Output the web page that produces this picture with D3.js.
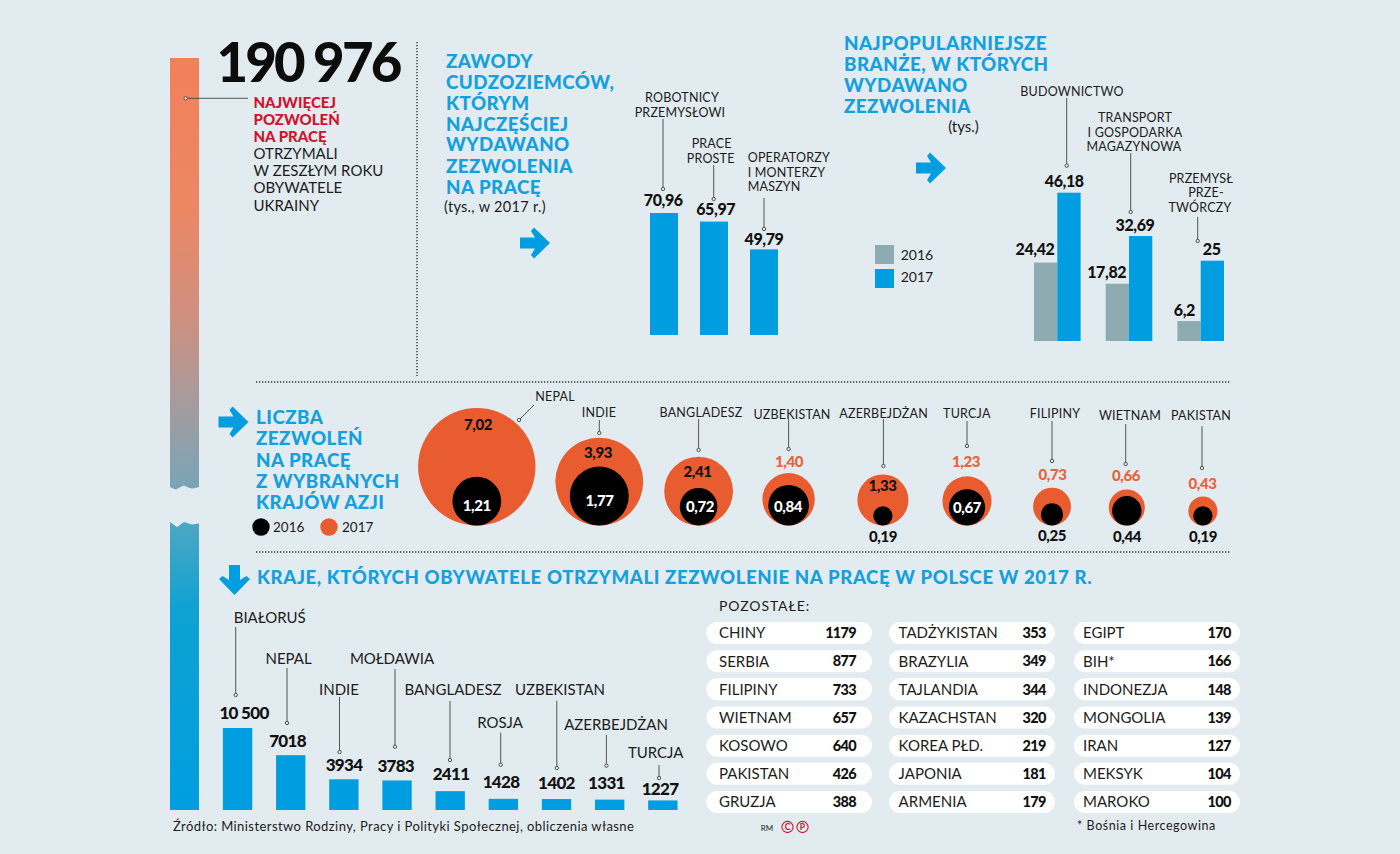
<!DOCTYPE html>
<html lang="pl"><head><meta charset="utf-8">
<script src="https://cdn.jsdelivr.net/npm/d3@7"></script>
<style>html,body{margin:0;padding:0;background:#e2ebef}svg{display:block}text{font-family:Lato,"Noto Sans",sans-serif}</style>
</head><body><div id="c"></div>
<script>
// ---------- DATA ----------
const totalUkraine = "190 976";
const jobNames = ["Robotnicy przemysłowi","Prace proste","Operatorzy i monterzy maszyn"];
const jobValues = [70.96,65.97,49.79];
const sectorNames = ["Budownictwo","Transport i gospodarka magazynowa","Przemysł przetwórczy"];
const sector2016 = [24.42,17.82,6.2];
const sector2017 = [46.18,32.69,25];
const asiaCountries = ["NEPAL","INDIE","BANGLADESZ","UZBEKISTAN","AZERBEJDŻAN","TURCJA","FILIPINY","WIETNAM","PAKISTAN"];
const asia2016 = [1.21,1.77,0.72,0.84,0.19,0.67,0.25,0.44,0.19];
const asia2017 = [7.02,3.93,2.41,1.40,1.33,1.23,0.73,0.66,0.43];
const topCountries = ["BIAŁORUŚ","NEPAL","INDIE","MOŁDAWIA","BANGLADESZ","ROSJA","UZBEKISTAN","AZERBEJDŻAN","TURCJA"];
const topValues = [10500,7018,3934,3783,2411,1428,1402,1331,1227];
const topValueLabels = ["10 500","7018","3934","3783","2411","1428","1402","1331","1227"];
const otherCol1 = ["CHINY","SERBIA","FILIPINY","WIETNAM","KOSOWO","PAKISTAN","GRUZJA"];
const otherVal1 = [1179,877,733,657,640,426,388];
const otherCol2 = ["TADŻYKISTAN","BRAZYLIA","TAJLANDIA","KAZACHSTAN","KOREA PŁD.","JAPONIA","ARMENIA"];
const otherVal2 = [353,349,344,320,219,181,179];
const otherCol3 = ["EGIPT","BIH*","INDONEZJA","MONGOLIA","IRAN","MEKSYK","MAROKO"];
const otherVal3 = [170,166,148,139,127,104,100];

// ---------- LAYOUT (annotation placement, kept apart from the data) ----------
const jobLabels = [
 {lines:[["ROBOTNICY",682,97,"middle"],["PRZEMYSŁOWI",680,112,"middle"]],line:[663,119,189],val:[663.3,-13]},
 {lines:[["PRACE",711.7,143,"middle"],["PROSTE",710.7,158,"middle"]],line:[713.7,165,199],val:[715.7,-12]},
 {lines:[["OPERATORZY",747.7,157,"start"],["I MONTERZY",747.7,172,"start"],["MASZYN",747.7,186.7,"start"]],line:[764,198,229],val:[764,-10.5]}];
const sectorLabels = [
 {lines:[["BUDOWNICTWO",1072,91]],line:[1066.7,98,165.7]},
 {lines:[["TRANSPORT",1135,117],["I GOSPODARKA",1135,132],["MAGAZYNOWA",1134,146]],line:[1130.7,153,212]},
 {lines:[["PRZEMYSŁ",1201,178],["PRZE-",1206,192],["TWÓRCZY",1200,207]],line:[1197.7,217,241]}];
const bubbleCentres = [476.8,599.3,698.6,788.6,882.9,967,1052,1126.8,1202.9];
const bubbleNames = [[555,396],[599,412.7],[701,412],[792,414],[883.6,413],[966.8,413.5],[1055,413.5],[1130,415],[1201,415]];
const bubbleLeaders = [[534,405,519,420],[599.3,420,599.3,433],[698.6,419,698.6,450],[788.6,419,788.6,449],[883.4,419,883.4,466],[967,421,967,446],[1052,421,1052,461],[1125.7,424,1125.7,464],[1202,426,1202,468]];
const v17Pos = [[478,425,"#111"],[598,453,"#111"],[697.5,472,"#111"],[789,461.5,"#e8623a"],[882.5,486,"#111"],[966,461.5,"#e8623a"],[1052.5,475,"#e8623a"],[1126,476,"#e8623a"],[1202.5,484,"#e8623a"]];
const v16Pos = [[476.8,505.7,"#fff"],[599.6,500.6,"#fff"],[700,507,"#fff"],[788,507,"#fff"],[883,537,"#111"],[967,508,"#fff"],[1052,536,"#111"],[1127,537,"#111"],[1203,537,"#111"]];
const topLayout = [
 {name:[269.7,618],line:[235.7,627,695],val:[244,-15]},
 {name:[288.6,659],line:[287,668,723],val:[287.5,-14.3]},
 {name:[339,689.7],line:[339.5,697,752],val:[344,-14]},
 {name:[392,659],line:[395,669,746.7],val:[395.7,-15]},
 {name:[453,690],line:[450,701,760],val:[451,-17]},
 {name:[500,723],line:[500.7,732.7,764.7],val:[501,-17]},
 {name:[560,690],line:[556.8,700.7,768],val:[556.4,-16]},
 {name:[616,724.7],line:[606.4,735,765.7],val:[606.4,-17]},
 {name:[655.7,753],line:[659,765,778],val:[660,-11.4]}];

const W=1400,H=854;
const COL={bg:"#e2ebef",blue:"#009ee0",head:"#149fdd",org:"#e95c30",grey:"#8eabb1",red:"#d2122e",ink:"#1c1c1c",line:"#444"};
const pl=(v,d)=>v.toFixed(d).replace(".",",");
const svg=d3.select("#c").append("svg").attr("width",W).attr("height",H).attr("viewBox",`0 0 ${W} ${H}`);
svg.append("rect").attr("width",W).attr("height",H).attr("fill",COL.bg);

function txt(x,yc,s,o={}){
  const size=o.size||13;
  return svg.append("text").attr("x",x).attr("y",yc+size*0.36).text(s)
   .attr("font-size",size).attr("font-weight",o.weight||400).attr("fill",o.fill||COL.ink)
   .attr("text-anchor",o.anchor||"start").attr("letter-spacing",o.ls||0);
}
const lab=(x,y,s,o={})=>txt(x,y,s,Object.assign({size:13,anchor:"middle",ls:0.2},o));
const num=(x,y,s,o={})=>txt(x,y,s,Object.assign({size:16,weight:900,anchor:"middle",ls:-0.4,fill:"#111"},o));
const head=(x,y,s,o={})=>txt(x,y,s,Object.assign({size:18.8,weight:900,fill:COL.head,ls:0.45},o));
function leader(x1,y1,x2,y2){
  svg.append("line").attr("x1",x1).attr("y1",y1).attr("x2",x2).attr("y2",y2).attr("stroke",COL.line).attr("stroke-width",0.9);
  svg.append("circle").attr("cx",x2).attr("cy",y2).attr("r",1.7).attr("fill",COL.bg).attr("stroke",COL.line).attr("stroke-width",0.9);
}
function arrow(cx,cy,rot){
  const p=[[-15,-5.5],[0,-5.5],[-4,-12],[-1,-15.5],[15,0],[-1,15.5],[-4,12],[0,5.5],[-15,5.5]];
  svg.append("path").attr("d",d3.line()(p)+"Z").attr("fill",COL.blue).attr("transform",`translate(${cx},${cy}) rotate(${rot||0})`);
}
function dotted(x1,y1,x2,y2){
  svg.append("line").attr("x1",x1).attr("y1",y1).attr("x2",x2).attr("y2",y2).attr("stroke","#333").attr("stroke-width",1.4).attr("stroke-dasharray","1.3 1.7");
}

// ---------- left column ----------
const defs=svg.append("defs");
const g1=defs.append("linearGradient").attr("id","gTop").attr("x1",0).attr("x2",0).attr("y1",0).attr("y2",1);
[[0,"#f2805a"],[.35,"#ec8764"],[.6,"#cf9080"],[.8,"#a59b9e"],[1,"#78a5b7"]].forEach(d=>g1.append("stop").attr("offset",d[0]).attr("stop-color",d[1]));
const g2=defs.append("linearGradient").attr("id","gBot").attr("x1",0).attr("x2",0).attr("y1",0).attr("y2",1);
[[0,"#4fa6c3"],[.3,"#0ea2d2"],[1,"#009ee0"]].forEach(d=>g2.append("stop").attr("offset",d[0]).attr("stop-color",d[1]));
svg.append("path").attr("fill","url(#gTop)").attr("d","M170,58H199V487L193,488.5Q188,488 184,485.5Q180,487 176,489.5Q172,488 170,487Z");
svg.append("path").attr("fill","url(#gBot)").attr("d","M170,522L177,527L184,522L192,524.5L199,523.5V810H170Z");
txt(216.5,62,totalUkraine,{size:54.5,weight:900,fill:"#0c0c0c",ls:-2.8});
leader(248,98.3,185.7,98.3);
[["NAJWIĘCEJ",103,1],["POZWOLEŃ",120,1],["NA PRACĘ",137,1],["OTRZYMALI",154,0],["W ZESZŁYM ROKU",171,0],["OBYWATELE",188,0],["UKRAINY",206,0]].forEach(d=>
  txt(253.5,d[1],d[0],{size:15,weight:d[2]?900:400,fill:d[2]?COL.red:COL.ink}));
dotted(417,42,417,376);dotted(256,382,1231,382);dotted(256,552,1231,552);

// ---------- chart 1 ----------
["ZAWODY","CUDZOZIEMCÓW,","KTÓRYM","NAJCZĘŚCIEJ","WYDAWANO","ZEZWOLENIA","NA PRACĘ"].forEach((s,i)=>head(446,[61,82,103,124,144.5,166,187.5][i],s));
txt(444,207,"(tys., w 2017 r.)",{size:14.5,ls:.3});
arrow(535,243);
const x1=d3.scaleBand().domain(jobNames).range([650,778]).paddingInner(.44);
const y1=d3.scaleLinear().domain([0,70.96]).range([335,213]);
svg.append("g").selectAll("rect").data(jobValues).join("rect")
 .attr("x",(d,i)=>x1(jobNames[i])).attr("width",x1.bandwidth()).attr("y",d=>y1(d)).attr("height",d=>y1(0)-y1(d)).attr("fill",COL.blue);
jobLabels.forEach((l,i)=>{
  l.lines.forEach(t=>lab(t[1],t[2],t[0],{size:12.5,anchor:t[3]}));
  leader(l.line[0],l.line[1],l.line[0],l.line[2]);
  num(l.val[0],y1(jobValues[i])+l.val[1],pl(jobValues[i],2));
});

// ---------- chart 2 ----------
["NAJPOPULARNIEJSZE","BRANŻE, W KTÓRYCH","WYDAWANO","ZEZWOLENIA"].forEach((s,i)=>head(844,[43,64,85,106][i],s));
txt(963.5,127,"(tys.)",{size:15,anchor:"middle"});
arrow(931,168);
const x2=d3.scaleBand().domain(sectorNames).range([1034,1224]).paddingInner(.35);
const x2s=d3.scaleBand().domain(["2016","2017"]).range([0,x2.bandwidth()]);
const y2=d3.scaleLinear().domain([0,46.18]).range([341,192.7]);
[[sector2016,"2016",COL.grey],[sector2017,"2017",COL.blue]].forEach(s=>{
  svg.append("g").selectAll("rect").data(s[0]).join("rect")
   .attr("x",(d,i)=>x2(sectorNames[i])+x2s(s[1])).attr("width",x2s.bandwidth()).attr("y",d=>y2(d)).attr("height",d=>y2(0)-y2(d)).attr("fill",s[2]);
});
sectorLabels.forEach(l=>{l.lines.forEach(t=>lab(t[1],t[2],t[0],{size:12.5}));leader(l.line[0],l.line[1],l.line[0],l.line[2]);});
const s16dx=[1,1,7], s17dx=[7,6,11];
sector2016.forEach((v,i)=>num(x2(sectorNames[i])+s16dx[i],y2(v)-[13,12,11][i],String(v).replace(".",",")));
sector2017.forEach((v,i)=>num(x2(sectorNames[i])+x2s.bandwidth()+s17dx[i],y2(v)-[11.7,11,11][i],String(v).replace(".",",")));
[["2016",COL.grey,245,254.7],["2017",COL.blue,269,277]].forEach(d=>{
  svg.append("rect").attr("x",875).attr("y",d[2]).attr("width",19).attr("height",19).attr("fill",d[1]);
  txt(917,d[3],d[0],{size:14,anchor:"middle"});
});

// ---------- bubbles ----------
["LICZBA","ZEZWOLEŃ","NA PRACĘ","Z WYBRANYCH","KRAJÓW AZJI"].forEach((s,i)=>head(256,[417,438,460,481,502][i],s));
const bx=d3.scaleOrdinal().domain(asiaCountries).range(bubbleCentres);
const br=d3.scaleSqrt().domain([0,7.02]).range([0,58.7]);
const bBase=525.5;
svg.append("g").selectAll("circle").data(asia2017).join("circle")
 .attr("cx",(d,i)=>bx(asiaCountries[i])).attr("cy",d=>bBase-br(d)).attr("r",d=>br(d)).attr("fill",COL.org);
svg.append("g").selectAll("circle").data(asia2016).join("circle")
 .attr("cx",(d,i)=>bx(asiaCountries[i])).attr("cy",d=>bBase-br(d)).attr("r",d=>br(d)).attr("fill","#000");
asiaCountries.forEach((c,i)=>{
  lab(bubbleNames[i][0],bubbleNames[i][1],c,{size:12.5});
  const L=bubbleLeaders[i];leader(L[0],L[1],L[2],L[3]);
  num(v17Pos[i][0],v17Pos[i][1],pl(asia2017[i],2),{fill:v17Pos[i][2],size:15});
  num(v16Pos[i][0],v16Pos[i][1],pl(asia2016[i],2),{fill:v16Pos[i][2],size:15});
});
arrow(233.5,422);
svg.append("circle").attr("cx",261).attr("cy",527).attr("r",8.7).attr("fill","#000");
txt(273,527,"2016",{size:13.5});
svg.append("circle").attr("cx",329).attr("cy",527).attr("r",8.7).attr("fill",COL.org);
txt(342,527,"2017",{size:13.5});

// ---------- bottom bars ----------
arrow(234.5,580,90);
txt(257,577,"KRAJE, KTÓRYCH OBYWATELE OTRZYMALI ZEZWOLENIE NA PRACĘ W POLSCE W 2017 R.",{size:18.6,weight:900,fill:COL.head,ls:0.61});
const x3=d3.scaleBand().domain(topCountries).range([222.9,677.5]).paddingInner(.448);
const y3=d3.scaleLinear().domain([0,10500]).range([810,728]);
svg.append("g").selectAll("rect").data(topValues).join("rect")
 .attr("x",(d,i)=>x3(topCountries[i])).attr("width",x3.bandwidth()).attr("y",d=>y3(d)).attr("height",d=>y3(0)-y3(d)).attr("fill",COL.blue);
topLayout.forEach((l,i)=>{
  lab(l.name[0],l.name[1],topCountries[i],{size:15,ls:0});
  leader(l.line[0],l.line[1],l.line[0],l.line[2]);
  num(l.val[0],y3(topValues[i])+l.val[1],topValueLabels[i],{size:17,ls:-0.7});
});

// ---------- table ----------
txt(719,606,"POZOSTAŁE:",{size:14,ls:.9});
const rowY=d3.scalePoint().domain(d3.range(7)).range([622,791]);
[[706.4,872,719,856,otherCol1,otherVal1],[889,1055,898.6,1045.7,otherCol2,otherVal2],[1074,1240,1083,1230.7,otherCol3,otherVal3]].forEach(c=>{
  svg.append("g").selectAll("rect").data(c[4]).join("rect")
   .attr("x",c[0]).attr("width",c[1]-c[0]).attr("y",(d,i)=>rowY(i)).attr("height",22).attr("rx",11).attr("fill","#fff");
  c[4].forEach((n,i)=>{
    txt(c[2],rowY(i)+11,n,{size:15});
    txt(c[3],rowY(i)+11,String(c[5][i]),{size:14.5,weight:900,anchor:"end",fill:"#111",ls:-.7});
  });
});
txt(173,826,"Źródło: Ministerstwo Rodziny, Pracy i Polityki Społecznej, obliczenia własne",{size:13,ls:.43});
txt(1077,825,"* Bośnia i Hercegowina",{size:12.5,ls:.55});
txt(767,828,"RM",{size:8,anchor:"middle"});
[["C",787.5],["P",802.5]].forEach(d=>{
  svg.append("circle").attr("cx",d[1]).attr("cy",827).attr("r",5.6).attr("fill","none").attr("stroke",COL.red).attr("stroke-width",1.1);
  txt(d[1],827,d[0],{size:8.5,weight:700,anchor:"middle",fill:COL.red});
});
</script></body></html>
